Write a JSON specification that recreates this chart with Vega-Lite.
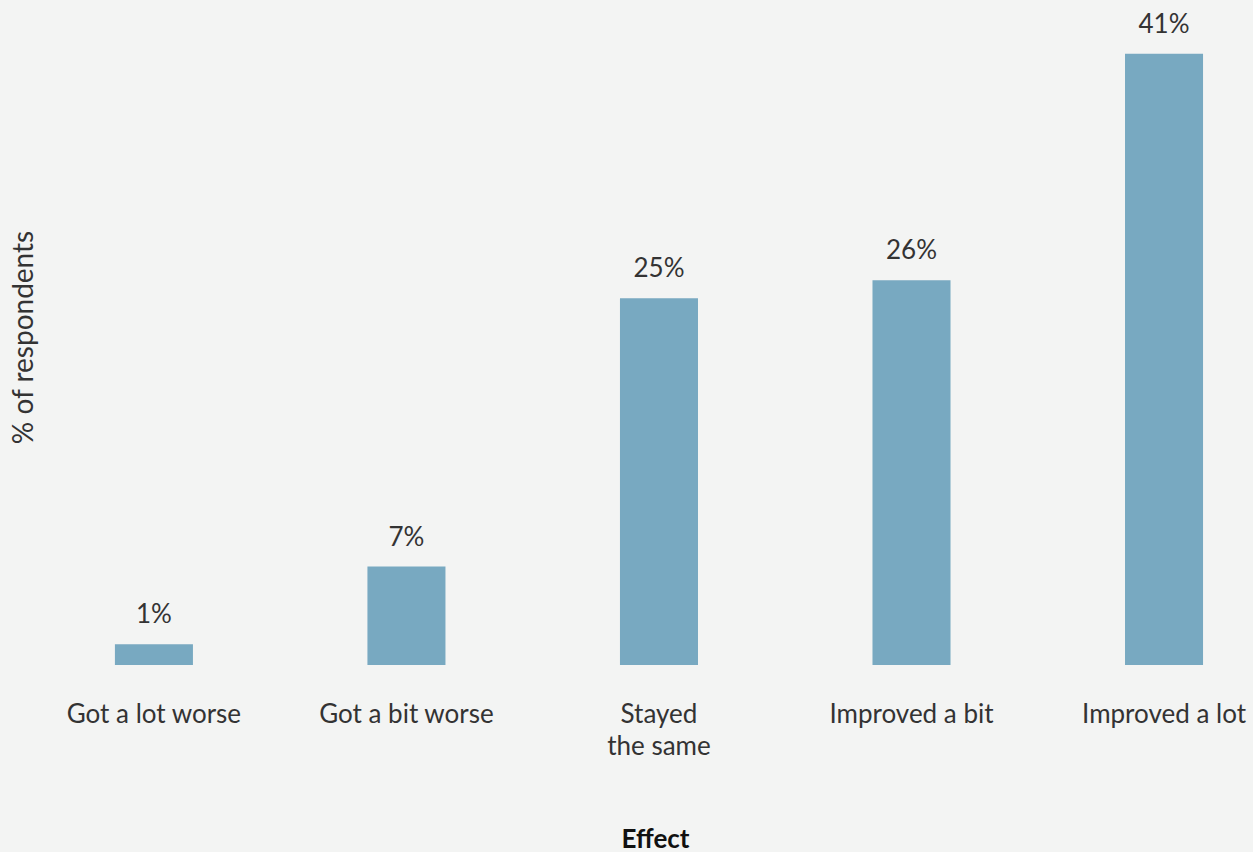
{
  "$schema": "https://vega.github.io/schema/vega-lite/v6.json",
  "width": 1225,
  "height": 665,
  "autosize": {"type": "none"},
  "padding": {"left": 28, "top": 0, "right": 0, "bottom": 187},
  "background": "#f3f4f3",
  "config": {"view": {"stroke": null}, "font": "Lato"},
  "data": {
    "values": [
      {"effect": "Got a lot worse", "value": 1.4, "label": "1%"},
      {"effect": "Got a bit worse", "value": 6.6, "label": "7%"},
      {"effect": "Stayed the same", "value": 24.6, "label": "25%"},
      {"effect": "Improved a bit", "value": 25.8, "label": "26%"},
      {"effect": "Improved a lot", "value": 41.0, "label": "41%"}
    ]
  },
  "encoding": {
    "x": {
      "field": "effect",
      "type": "nominal",
      "sort": null,
      "scale": {"paddingInner": 0.691, "paddingOuter": 0.271, "align": 0.635},
      "axis": {
        "title": "Effect",
        "titleFontSize": 26,
        "titleFontWeight": "bold",
        "titleColor": "#111111",
        "titleBaseline": "alphabetic",
        "titleAlign": "center",
        "titleX": 627,
        "titleY": 182,
        "labelAngle": 0,
        "labelFontSize": 26,
        "labelColor": "#333333",
        "labelBaseline": "top",
        "labelPadding": 36,
        "labelLineHeight": 32,
        "labelExpr": "datum.value == 'Stayed the same' ? ['Stayed', 'the same'] : datum.value",
        "ticks": false,
        "tickSize": 0,
        "domain": false,
        "grid": false
      }
    },
    "y": {
      "field": "value",
      "type": "quantitative",
      "scale": {"domain": [0, 44.6], "nice": false},
      "axis": {
        "title": "% of respondents",
        "titleFontSize": 28,
        "titleFontWeight": "normal",
        "titleColor": "#333333",
        "titleAngle": -90,
        "titleBaseline": "alphabetic",
        "titleAlign": "center",
        "titleX": 4,
        "titleY": 337,
        "labels": false,
        "ticks": false,
        "domain": false,
        "grid": false
      }
    }
  },
  "layer": [
    {"mark": {"type": "bar", "color": "#78a9c1"}},
    {
      "mark": {"type": "text", "fontSize": 26, "color": "#333333", "baseline": "alphabetic", "dy": -21},
      "encoding": {"text": {"field": "label"}}
    }
  ]
}
